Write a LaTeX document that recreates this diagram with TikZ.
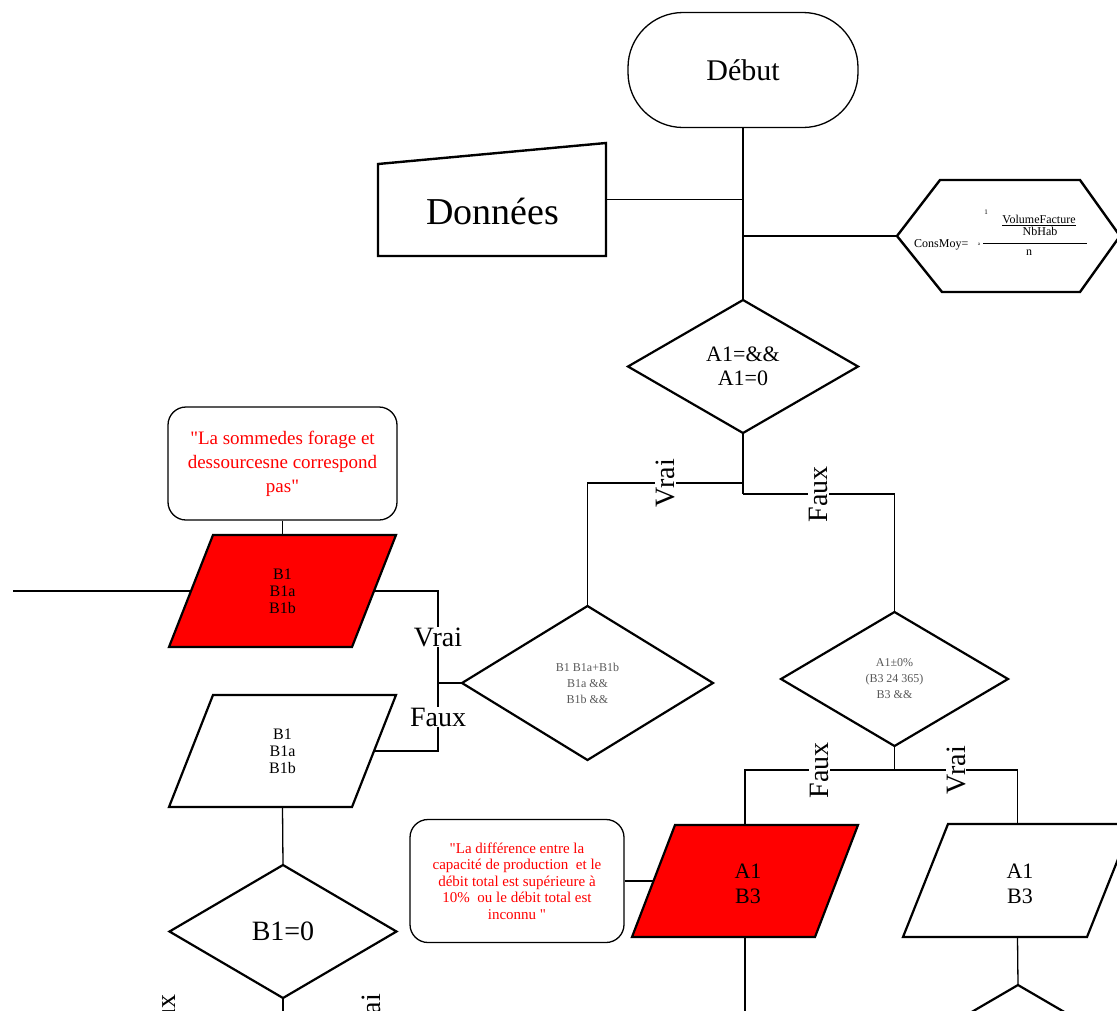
\documentclass[tikz,border=0pt]{standalone}
\usepackage{fontspec}
\setmainfont{Liberation Serif}[Ligatures=TeXOff]
\usetikzlibrary{shapes.geometric,calc}
\newcommand\myfs[2]{\fontsize{#1}{#2}\selectfont}
\begin{document}
\begin{tikzpicture}[x=1pt,y=-1pt,line join=miter,
  conn/.style={line width=1.3pt},
  dia/.style={shape=diamond, draw, line width=2.2pt, inner sep=0pt, outer sep=0pt, align=center, fill=white},
  pbox/.style={rectangle, inner sep=0pt, outer sep=0pt},
  pshape/.style={draw, line width=2.2pt},
  lbl/.style={font=\myfs{28}{30}, fill=white, inner sep=1pt},
  note/.style={draw, rectangle, rounded corners=18pt, line width=1.3pt, align=center, text=red, inner sep=0pt},
  small/.style={font=\myfs{12}{16}, text=black!65}]
\useasboundingbox (0,0) rectangle (1117,1010);
\clip (0,0) rectangle (1117,1010);

% start
\node[draw, rectangle, rounded corners=55pt, minimum width=230pt, minimum height=115pt, line width=1.3pt, font=\myfs{30}{36}] (debut) at (743,70) {Début};

% Données (manual input)
\node[pbox, minimum width=228pt, minimum height=113pt] (donbox) at (492,199.5) {};
\draw[line width=2.4pt] (donbox.south west) -- ($(donbox.north west)+(0,21)$) -- (donbox.north east) -- (donbox.south east) -- cycle;
\node[font=\myfs{38}{44}] (dontxt) at (493,211) {Données};

% hexagon
\node[pbox, minimum width=223pt, minimum height=112pt] (hexbox) at (1008.5,236) {};
\draw[line width=2.4pt] (hexbox.west) -- ($(hexbox.north west)+(43,0)$) -- ($(hexbox.north east)+(-40,0)$) -- (hexbox.east) -- ($(hexbox.south east)+(-40,0)$) -- ($(hexbox.south west)+(45,0)$) -- cycle;
\node[font=\myfs{12}{14}, anchor=base west, inner sep=0pt] (cm) at (914,247) {ConsMoy=};
\node[font=\myfs{5}{6}, inner sep=0pt] (cma) at (979,244) {a};
\node[font=\myfs{7}{8}, inner sep=0pt] (cm1) at (986,212) {1};
\node[font=\myfs{12}{14}, inner sep=0pt, anchor=base] (vf) at (1039,223) {VolumeFacture};
\draw[line width=1pt] ($(vf.base west)+(0,2)$) -- ($(vf.base east)+(0,2)$);
\node[font=\myfs{12}{14}, inner sep=0pt, anchor=base] (nb) at (1040,235) {NbHab};
\coordinate (barL) at (983,243);
\coordinate (barR) at (1087,243);
\draw[line width=1pt] (barL) -- (barR);
\node[font=\myfs{12}{14}, inner sep=0pt, anchor=base] (nn) at (1029,255) {n};

% decisions
\node[dia, minimum width=230pt, minimum height=133pt, font=\myfs{22}{24}] (dA1) at (743,366.5) {A1=\&\&\\A1=0};
\node[dia, minimum width=251pt, minimum height=154pt, small] (dB1) at (587.5,683) {B1 B1a+B1b\\B1a \&\&\\B1b \&\&};
\node[dia, minimum width=227pt, minimum height=134pt, small] (dA1H) at (894.5,679) {A1±0\%\\(B3 24  365)\\B3 \&\&};
\node[dia, minimum width=227pt, minimum height=133pt, font=\myfs{28}{30}] (dB10) at (283,931.5) {B1=0};
\node[dia, minimum width=230pt, minimum height=134pt] (dW) at (1018,1052) {};

% parallelograms
\node[pbox, minimum width=227pt, minimum height=112pt] (prB1r) at (282.5,591) {};
\draw[pshape, fill=red] (prB1r.south west) -- ($(prB1r.north west)+(44,0)$) -- (prB1r.north east) -- ($(prB1r.south east)+(-44,0)$) -- cycle;
\node[font=\myfs{16}{17}, align=center] (tB1r) at (prB1r) {B1\\B1a\\B1b};
\coordinate (prB1rW) at ($(prB1r.west)+(22,0)$);
\coordinate (prB1rE) at ($(prB1r.east)+(-22,0)$);

\node[pbox, minimum width=227pt, minimum height=112pt] (prB1w) at (282.5,751) {};
\draw[pshape] (prB1w.south west) -- ($(prB1w.north west)+(44,0)$) -- (prB1w.north east) -- ($(prB1w.south east)+(-44,0)$) -- cycle;
\node[font=\myfs{16}{17}, align=center] (tB1w) at (prB1w) {B1\\B1a\\B1b};
\coordinate (prB1wE) at ($(prB1w.east)+(-22,0)$);

\node[pbox, minimum width=226pt, minimum height=112pt] (prA1r) at (745,881) {};
\draw[pshape, fill=red] (prA1r.south west) -- ($(prA1r.north west)+(43,0)$) -- (prA1r.north east) -- ($(prA1r.south east)+(-43,0)$) -- cycle;
\node[font=\myfs{22}{25}, align=center] (tA1r) at (748,884) {A1\\B3};
\coordinate (prA1rW) at ($(prA1r.west)+(21.5,0)$);

\node[pbox, minimum width=229pt, minimum height=113pt] (prA1w) at (1017.5,880.5) {};
\draw[pshape] (prA1w.south west) -- ($(prA1w.north west)+(45,0)$) -- (prA1w.north east) -- ($(prA1w.south east)+(-45,0)$) -- cycle;
\node[font=\myfs{22}{25}, align=center] (tA1w) at (1020,884) {A1\\B3};

% notes
\node[note, minimum width=229pt, minimum height=113pt, font=\myfs{19}{24}] (c1) at (282.5,463.5) {"La sommedes forage et\\dessourcesne correspond\\pas"};
\node[note, minimum width=214pt, minimum height=123pt, font=\myfs{15}{16.5}] (c2) at (517,881) {"La différence entre la\\capacité de production\ \ et le\\débit total est supérieure à\\10\%\ \ ou le débit total est\\inconnu "};

% connectors
\coordinate (j1) at (743,199.5);
\coordinate (j2) at (743,236);
\coordinate (j3) at (743,483);
\coordinate (j4) at (743,494);
\coordinate (j5) at (894.5,770);
\coordinate (j7) at (438,683);
\coordinate (e0) at (13,591);
\coordinate (e1) at (745,1040);
\coordinate (e2) at (283,1040);

\draw[conn] (debut.south) -- (dA1.north);
\draw[conn] (donbox.east) -- (j1);
\draw[conn] (j2) -- (hexbox.west);
\draw[conn] (dA1.south) -- (j4);
\draw[conn] (j3) -| node[lbl, rotate=90, pos=0.25] (lV1) {Vrai} (dB1.north);
\draw[conn] (j4) -| node[lbl, rotate=90, pos=0.25] (lF1) {Faux} (dA1H.north);
\draw[conn] (dA1H.south) -- (j5);
\draw[conn] (j5) -| node[lbl, rotate=90, pos=0.25] (lF2) {Faux} (prA1r.north);
\draw[conn] (j5) -| node[lbl, rotate=90, pos=0.25] (lV2) {Vrai} (prA1w.north);
\draw[conn] (prA1r.south) -- (e1);
\draw[conn] (prA1w.south) -- (dW.north);
\draw[conn] (c2.east) -- (prA1rW);
\draw[conn] (c1.south) -- (prB1r.north);
\draw[conn] (e0) -- (prB1rW);
\draw[conn] (dB1.west) -- (j7);
\draw[conn] (prB1rE) -| node[lbl, pos=0.75] (lV3) {Vrai} (j7);
\draw[conn] (prB1wE) -| node[lbl, pos=0.75] (lF3) {Faux} (j7);
\draw[conn] (prB1w.south) -- (dB10.north);
\draw[conn] (dB10.south) -- (e2);

% cut-off labels at the bottom
\node[font=\myfs{28}{30}, rotate=90, anchor=east, inner sep=1pt] (lF4) at (166,993) {Faux};
\node[font=\myfs{28}{30}, rotate=90, anchor=east, inner sep=1pt] (lV4) at (371,993) {Vrai};
\end{tikzpicture}
\end{document}
